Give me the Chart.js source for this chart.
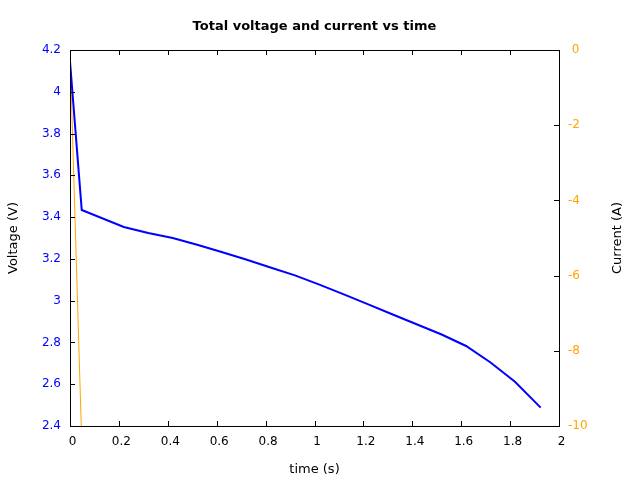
<!DOCTYPE html>
<html>
<head>
<meta charset="utf-8">
<script src="https://cdn.jsdelivr.net/npm/chart.js@4/dist/chart.umd.min.js"></script>
<style>
  html, body { margin: 0; padding: 0; background: #ffffff; }
  #wrap { width: 640px; height: 480px; position: relative; }
</style>
</head>
<body>
<div id="wrap"><canvas id="c" width="640" height="480"></canvas></div>
<script>
// ---- data ----
const chartTitle = 'Total voltage and current vs time';
const xTitle = 'time (s)';
const yTitle = 'Voltage (V)';
const y2Title = 'Current (A)';

const voltageTimes = [0, 0.048, 0.22, 0.32, 0.42, 0.52, 0.62, 0.72, 0.82, 0.92, 1.02, 1.12, 1.22, 1.32, 1.42, 1.52, 1.62, 1.72, 1.82, 1.925];
const voltage      = [4.144, 3.434, 3.353, 3.324, 3.300, 3.268, 3.233, 3.197, 3.159, 3.121, 3.077, 3.030, 2.982, 2.934, 2.886, 2.838, 2.783, 2.704, 2.612, 2.488];

const currentTimes = [0, 0.046];
const current      = [0, -10];

const xTickValues  = [0, 0.2, 0.4, 0.6, 0.8, 1, 1.2, 1.4, 1.6, 1.8, 2];
const yTickValues  = [2.4, 2.6, 2.8, 3, 3.2, 3.4, 3.6, 3.8, 4, 4.2];
const y2TickValues = [-10, -8, -6, -4, -2, 0];

const BLUE = '#0000ff';
const ORANGE = '#ffa500';
const FONT = 'DejaVu Sans';

const voltagePts = voltageTimes.map((t, i) => ({ x: t, y: voltage[i] }));
const currentPts = currentTimes.map((t, i) => ({ x: t, y: current[i] }));

const fmt = v => String(Number(v.toFixed(3)));

const framePlugin = {
  id: 'frame',
  afterDraw(chart) {
    const ctx = chart.ctx;
    const a = chart.chartArea;
    const xs = chart.scales.x, ys = chart.scales.y, y2s = chart.scales.y2;
    const T = 5;
    ctx.save();
    ctx.strokeStyle = '#000000';
    ctx.lineWidth = 1;
    ctx.beginPath();
    xs.ticks.forEach(t => {
      const p = Math.round(xs.getPixelForValue(t.value)) + 0.5;
      ctx.moveTo(p, a.bottom); ctx.lineTo(p, a.bottom - T);
      ctx.moveTo(p, a.top); ctx.lineTo(p, a.top + T);
    });
    ys.ticks.forEach(t => {
      const p = Math.round(ys.getPixelForValue(t.value)) + 0.5;
      ctx.moveTo(a.left, p); ctx.lineTo(a.left + T, p);
    });
    y2s.ticks.forEach(t => {
      const p = Math.round(y2s.getPixelForValue(t.value)) + 0.5;
      ctx.moveTo(a.right, p); ctx.lineTo(a.right - T, p);
    });
    ctx.stroke();
    ctx.strokeRect(Math.round(a.left) + 0.5, Math.round(a.top) + 0.5,
                   Math.round(a.right - a.left), Math.round(a.bottom - a.top));

    // chart title centred over the plot area
    ctx.fillStyle = '#000000';
    ctx.font = 'bold 13px "' + FONT + '"';
    ctx.textAlign = 'center';
    ctx.textBaseline = 'alphabetic';
    ctx.fillText(chartTitle, (a.left + a.right) / 2, 30);

    // right axis title, reading bottom to top
    ctx.font = '13px "' + FONT + '"';
    ctx.translate(621, (a.top + a.bottom) / 2);
    ctx.rotate(-Math.PI / 2);
    ctx.textAlign = 'center';
    ctx.textBaseline = 'alphabetic';
    ctx.fillText(y2Title, 0, 0);
    ctx.restore();
  }
};

Chart.defaults.font.family = FONT;
Chart.defaults.font.size = 12;
Chart.defaults.color = '#000000';

new Chart(document.getElementById('c'), {
  type: 'line',
  data: {
    datasets: [
      {
        label: 'Voltage',
        data: voltagePts,
        yAxisID: 'y',
        borderColor: BLUE,
        backgroundColor: BLUE,
        borderWidth: 2,
        pointRadius: 0,
        tension: 0,
        fill: false,
        order: 0
      },
      {
        label: 'Current',
        data: currentPts,
        yAxisID: 'y2',
        borderColor: ORANGE,
        backgroundColor: ORANGE,
        borderWidth: 1,
        pointRadius: 0,
        tension: 0,
        fill: false,
        order: 1
      }
    ]
  },
  options: {
    responsive: false,
    animation: false,
    devicePixelRatio: 1,
    layout: { padding: { top: 50, left: 0, right: 0, bottom: 0 } },
    plugins: {
      legend: { display: false },
      title: { display: false },
      tooltip: { enabled: false }
    },
    scales: {
      x: {
        type: 'linear',
        min: 0, max: 2,
        afterBuildTicks: s => { s.ticks = xTickValues.map(v => ({ value: v })); },
        afterFit: s => { s.height = 54; },
        grid: { display: false, drawTicks: false },
        border: { display: false },
        ticks: { padding: 9, labelOffset: 2.5, color: '#000000', maxRotation: 0, callback: v => fmt(v), font: { size: 12 } },
        title: { display: true, text: xTitle, font: { size: 13 }, padding: { top: 0, bottom: 3 } }
      },
      y: {
        type: 'linear',
        position: 'left',
        min: 2.4, max: 4.2,
        afterBuildTicks: s => { s.ticks = yTickValues.map(v => ({ value: v })); },
        afterFit: s => { s.width = 70; },
        grid: { display: false, drawTicks: false },
        border: { display: false },
        ticks: { padding: 9, color: BLUE, callback: v => fmt(v), font: { size: 12 } },
        title: { display: true, text: yTitle, font: { size: 13 }, padding: { top: 6, bottom: 0 } }
      },
      y2: {
        type: 'linear',
        position: 'right',
        min: -10, max: 0,
        afterBuildTicks: s => { s.ticks = y2TickValues.map(v => ({ value: v })); },
        afterFit: s => { s.width = 81; },
        grid: { display: false, drawTicks: false },
        border: { display: false },
        ticks: { padding: 9, color: ORANGE, callback: v => (v === 0 ? ' 0' : fmt(v)), font: { size: 12 } },
        title: { display: false }
      }
    }
  },
  plugins: [framePlugin]
});
</script>
</body>
</html>
